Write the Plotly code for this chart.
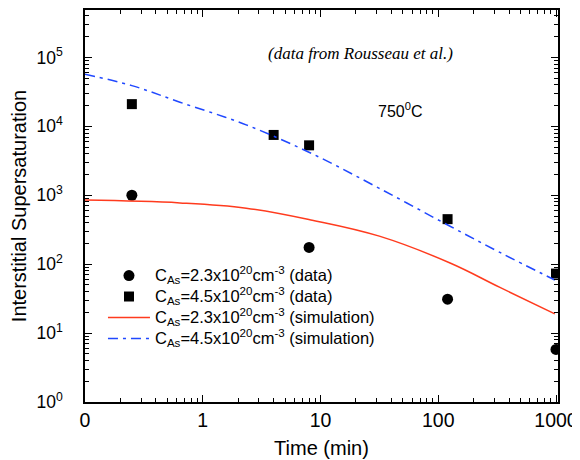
import plotly.graph_objects as go

# ---- data ----
t_circ = [0.25, 8, 120, 1000]
s_circ = [1000, 175, 31, 5.8]
t_sq = [0.25, 4, 8, 120, 1000]
s_sq = [21000, 7500, 5300, 450, 73]

t_sim_red = [0.1, 0.64, 2.34, 8.5, 31.6, 126, 334, 977]
s_sim_red = [850, 775, 650, 435, 255, 104, 46, 19]
t_sim_blue = [0.1, 0.25, 0.64, 2.34, 8.5, 31.6, 126, 334, 977]
s_sim_blue = [57000, 39000, 22400, 10500, 4000, 1260, 355, 148, 59]

x_tickvals = [0.1, 1, 10, 100, 1000]
x_ticktext = ["0", "1", "10", "100", "1000"]
y_tickvals = [1, 10, 100, 1000, 10000, 100000]
y_ticktext = ["10<sup>0</sup>", "10<sup>1</sup>", "10<sup>2</sup>", "10<sup>3</sup>",
              "10<sup>4</sup>", "10<sup>5</sup>"]

conc_labels = ["2.3", "4.5", "2.3", "4.5"]
kind_labels = ["data", "data", "simulation", "simulation"]


def legend_label(c, k):
    return ('<span style="font-size:16.5px">C<sub>As</sub>=' + c +
            'x10<sup>20</sup>cm<sup>-3</sup> (' + k + ')</span>')


labels = [legend_label(c, k) for c, k in zip(conc_labels, kind_labels)]

FONT = "Liberation Sans, Arial, Helvetica, sans-serif"

fig = go.Figure()
fig.add_trace(go.Scatter(x=t_circ, y=s_circ, mode="markers", name=labels[0],
                         marker=dict(symbol="circle", size=11, color="black")))
fig.add_trace(go.Scatter(x=t_sq, y=s_sq, mode="markers", name=labels[1],
                         marker=dict(symbol="square", size=10, color="black")))
fig.add_trace(go.Scatter(x=t_sim_red, y=s_sim_red, mode="lines", name=labels[2],
                         line=dict(color="#ff3b1e", width=1.5, shape="spline",
                                   smoothing=1.1)))
fig.add_trace(go.Scatter(x=t_sim_blue, y=s_sim_blue, mode="lines", name=labels[3],
                         line=dict(color="#2048ff", width=1.5, dash="10px,5px,3px,5px",
                                   shape="spline", smoothing=1.0)))

minor_x = [m * 10 ** e for e in range(-1, 3) for m in range(2, 10)]
minor_y = [m * 10 ** e for e in range(0, 6) for m in range(2, 10)]

axis_common = dict(showgrid=False, zeroline=False, showline=True, linecolor="black",
                   linewidth=1.5, mirror="allticks", ticks="inside", ticklen=7,
                   tickwidth=1.2, tickcolor="black", automargin=False)

fig.update_xaxes(type="log", range=[-1, 3.017], tickmode="array",
                 tickvals=x_tickvals, ticktext=x_ticktext,
                 tickfont=dict(family=FONT, size=19.5, color="black"),
                 minor=dict(tickmode="array", tickvals=minor_x, ticks="inside",
                            ticklen=4, tickcolor="black", tickwidth=1, showgrid=False),
                 title=dict(text="Time (min)", font=dict(family=FONT, size=20, color="black"),
                            standoff=11),
                 **axis_common)
fig.update_yaxes(type="log", range=[0, 5.688], tickmode="array",
                 tickvals=y_tickvals, ticktext=y_ticktext,
                 tickfont=dict(family=FONT, size=17.5, color="black"),
                 minor=dict(tickmode="array", tickvals=minor_y, ticks="inside",
                            ticklen=4, tickcolor="black", tickwidth=1, showgrid=False),
                 title=dict(text="Interstitial Supersaturation",
                            font=dict(family=FONT, size=20, color="black"), standoff=6),
                 ticklabelstandoff=17,
                 **axis_common)

fig.add_annotation(text="<i>(data from Rousseau et al.)</i>", x=0.583, y=0.889,
                   xref="paper", yref="paper", xanchor="center", yanchor="middle",
                   showarrow=False,
                   font=dict(family="Liberation Serif, Times New Roman, serif", size=17,
                             color="black"))
fig.add_annotation(text="750<sup>0</sup>C", x=0.666, y=0.746,
                   xref="paper", yref="paper", xanchor="center", yanchor="middle",
                   showarrow=False,
                   font=dict(family=FONT, size=16, color="black"))

# page body has an 8px default margin, so the figure is drawn 8px in from the corner
fig.update_layout(
    width=572, height=452,
    margin=dict(l=77, r=22, t=2, b=58, autoexpand=False),
    paper_bgcolor="white", plot_bgcolor="white",
    showlegend=True,
    legend=dict(x=0.038, y=0.362, xanchor="left", yanchor="top",
                bgcolor="rgba(0,0,0,0)", font=dict(family=FONT, size=13.8, color="black"),
                itemwidth=42, tracegroupgap=0),
)

fig.write_html("out.html")
